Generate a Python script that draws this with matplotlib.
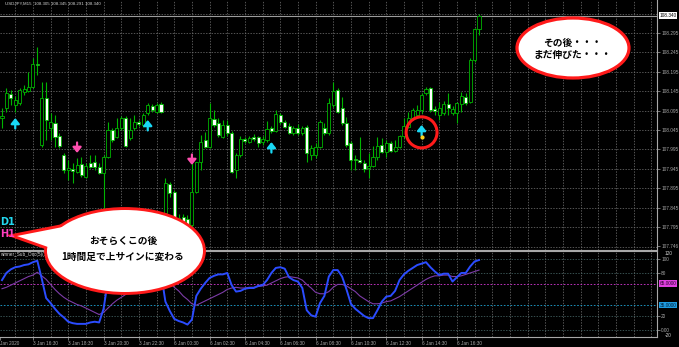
import numpy as np
import matplotlib.pyplot as plt
from matplotlib.patches import Ellipse, Polygon
from matplotlib.transforms import blended_transform_factory

# USDJPY M15, 3 Jan 14:45 -> 6 Jan 17:45
opens = [108.076, 108.102, 108.138, 108.109, 108.115, 108.143, 108.146, 108.156, 108.215, 108.006,
         108.127, 108.050, 108.063, 108.030, 107.981, 107.942, 107.944, 107.937, 107.957, 107.924,
         107.960, 107.963, 107.950, 107.934, 107.975, 108.045, 108.027, 108.050, 108.076, 108.024,
         108.050, 108.066, 108.058, 108.089, 108.107, 108.091, 108.112, 107.831, 107.906, 107.885,
         107.798, 107.821, 107.816, 107.800, 107.885, 107.963, 108.019, 108.001, 108.073, 108.063,
         108.027, 108.058, 108.037, 107.942, 107.981, 108.022, 108.014, 108.027, 108.027, 108.014,
         108.019, 108.050, 108.042, 108.084, 108.066, 108.055, 108.037, 108.050, 108.037, 108.053,
         107.981, 107.981, 108.001, 108.050, 108.037, 108.109, 108.148, 108.102, 108.063, 108.011,
         107.970, 107.968, 107.960, 107.947, 107.952, 107.975, 108.006, 107.988, 108.011, 107.991,
         108.001, 108.030, 108.053, 108.076, 108.084, 108.097, 108.140, 108.153, 108.099, 108.084,
         108.089, 108.112, 108.089, 108.089, 108.112, 108.130, 108.117, 108.225, 108.305]
highs = [108.102, 108.153, 108.148, 108.133, 108.153, 108.161, 108.194, 108.231, 108.259, 108.169,
         108.169, 108.089, 108.084, 108.037, 107.986, 107.968, 107.960, 107.973, 107.975, 107.960,
         107.981, 107.981, 107.960, 107.981, 108.066, 108.050, 108.076, 108.081, 108.081, 108.076,
         108.084, 108.071, 108.089, 108.115, 108.112, 108.115, 108.117, 107.921, 107.911, 107.890,
         107.829, 107.829, 107.826, 107.968, 107.963, 108.032, 108.040, 108.115, 108.097, 108.076,
         108.071, 108.071, 108.042, 107.986, 108.030, 108.027, 108.030, 108.035, 108.030, 108.030,
         108.068, 108.055, 108.097, 108.089, 108.071, 108.063, 108.055, 108.060, 108.055, 108.058,
         108.006, 108.011, 108.071, 108.063, 108.127, 108.169, 108.153, 108.130, 108.078, 108.017,
         107.981, 108.027, 107.968, 107.986, 108.004, 108.027, 108.024, 108.019, 108.017, 108.019,
         108.032, 108.076, 108.091, 108.102, 108.109, 108.140, 108.156, 108.156, 108.107, 108.117,
         108.120, 108.140, 108.107, 108.117, 108.143, 108.140, 108.231, 108.308, 108.345]
lows = [108.050, 108.091, 108.109, 108.091, 108.109, 108.135, 108.143, 108.153, 108.187, 108.001,
        108.019, 108.019, 108.001, 107.999, 107.934, 107.916, 107.908, 107.934, 107.924, 107.921,
        107.947, 107.942, 107.932, 107.826, 107.973, 108.014, 108.024, 108.045, 108.001, 108.019,
        108.045, 108.055, 108.053, 108.084, 108.091, 108.089, 108.089, 107.826, 107.872, 107.792,
        107.782, 107.782, 107.780, 107.792, 107.883, 107.942, 107.999, 107.999, 108.053, 108.027,
        108.024, 108.030, 107.934, 107.921, 107.975, 108.011, 108.011, 108.017, 108.001, 108.006,
        108.014, 108.037, 108.040, 108.060, 108.050, 108.035, 108.032, 108.032, 108.032, 107.963,
        107.968, 107.973, 107.999, 108.032, 108.032, 108.104, 108.089, 108.058, 108.001, 107.942,
        107.942, 107.960, 107.937, 107.921, 107.950, 107.968, 107.986, 107.975, 107.988, 107.988,
        107.999, 108.024, 108.050, 108.071, 108.078, 108.089, 108.135, 108.091, 108.084, 108.071,
        108.084, 108.084, 108.084, 108.063, 108.091, 108.109, 108.115, 108.220, 108.291]
closes = [108.081, 108.140, 108.127, 108.122, 108.148, 108.151, 108.156, 108.215, 108.212, 108.127,
          108.071, 108.066, 108.027, 108.004, 107.942, 107.947, 107.939, 107.955, 107.929, 107.952,
          107.950, 107.950, 107.934, 107.975, 108.045, 108.019, 108.050, 108.076, 108.004, 108.045,
          108.066, 108.060, 108.084, 108.109, 108.097, 108.109, 108.091, 107.908, 107.883, 107.800,
          107.818, 107.795, 107.798, 107.885, 107.963, 108.014, 108.001, 108.076, 108.058, 108.032,
          108.058, 108.037, 107.937, 107.981, 108.022, 108.017, 108.024, 108.022, 108.011, 108.022,
          108.048, 108.042, 108.086, 108.066, 108.053, 108.037, 108.050, 108.037, 108.050, 107.986,
          107.999, 108.001, 108.066, 108.037, 108.115, 108.146, 108.091, 108.063, 108.006, 107.968,
          107.968, 107.963, 107.944, 107.952, 107.975, 108.004, 107.988, 108.011, 107.991, 108.001,
          108.030, 108.055, 108.076, 108.097, 108.097, 108.135, 108.151, 108.097, 108.094, 108.102,
          108.112, 108.102, 108.099, 108.115, 108.133, 108.115, 108.225, 108.305, 108.340]

# signal arrows (bar index, tip price)
up_idx = [3, 33, 61, 95]
up_tip = [108.076, 108.071, 108.014, 108.058]
dn_idx = [17, 43]
dn_tip = [107.986, 107.955]
dot_price = 108.027

# sub window oscillator
fast = [70, 80, 85, 88, 89, 91, 92, 95, 97, 72, 45, 38, 30, 23, 18, 12, 10, 9, 9, 9,
        11, 12, 11, 30, 70, 85, 80, 85, 70, 65, 72, 75, 80, 88, 90, 92, 80, 40, 27, 16,
        13, 11, 8, 15, 48, 58, 66, 73, 76, 78, 78, 80, 63, 54, 55, 58, 59, 59, 62, 63,
        70, 80, 87, 88, 86, 74, 70, 68, 59, 28, 21, 19, 38, 48, 75, 84, 84, 75, 57, 37,
        30, 25, 20, 17, 17, 28, 40, 47, 48, 55, 70, 78, 83, 87, 91, 93, 95, 88, 82, 77,
        79, 79, 68, 74, 80, 80, 89, 96, 98]
slow = [58, 60, 63, 66, 69, 72, 75, 77, 81, 76, 71, 64, 57, 51, 46, 42, 39, 36, 34, 31,
        28, 25, 22, 25, 31, 37, 42, 46, 50, 54, 58, 61, 64, 67, 70, 73, 75, 72, 67, 60,
        55, 48, 43, 37, 35, 38, 41, 44, 47, 50, 53, 57, 59, 60, 59, 59, 60, 60, 61, 62,
        63, 66, 69, 72, 74, 75, 74, 73, 70, 64, 59, 53, 51, 51, 54, 60, 64, 64, 62, 58,
        54, 48, 44, 40, 37, 37, 38, 40, 41, 44, 47, 51, 55, 59, 63, 67, 71, 74, 76, 76,
        77, 77, 75, 75, 76, 78, 80, 82, 84]
levels = [65, 35]

price_ticks = [108.295, 108.245, 108.195, 108.145, 108.095, 108.045, 107.995,
               107.945, 107.895, 107.845, 107.795, 107.746]
time_ticks = [7 + 8 * k for k in range(13)]
time_labels = ['3 Jan 16:30', '3 Jan 18:30', '3 Jan 20:30', '3 Jan 22:30',
               '6 Jan 00:30', '6 Jan 02:30', '6 Jan 04:30', '6 Jan 06:30', '6 Jan 08:30',
               '6 Jan 10:30', '6 Jan 12:30', '6 Jan 14:30', '6 Jan 16:30']

W, H = 679, 347
GREEN = '#00b400'
GRID = '#767676'
AXC = '#a8a8a8'
TXT = '#d2d2d2'
SMALL = dict(family='Liberation Sans', fontsize=3.4, color=TXT)
JP = ['Noto Sans CJK JP', 'DejaVu Sans']

fig = plt.figure(figsize=(W / 100, H / 100), dpi=100, facecolor='black')
ax = fig.add_axes([0, 1 - 250 / H, 657 / W, 250 / H], facecolor='black')
sub = fig.add_axes([0, 1 - 337 / H, 657 / W, 86 / H], facecolor='black')

x = np.arange(len(opens))
o, h, l, c = map(np.array, (opens, highs, lows, closes))
xlim = (-0.45, 148.3)

# main chart
ax.set_xlim(*xlim)
ax.set_ylim(107.736, 108.380)
for i in range(3, 149, 4):
    ax.axvline(i, color=GRID, lw=0.5, ls=(0, (2, 2)), zorder=1)
    sub.axvline(i, color=GRID, lw=0.5, ls=(0, (2, 2)), zorder=1)
for p in np.arange(108.345, 107.74, -0.05):
    ax.axhline(p, color=GRID, lw=0.5, ls=(0, (2, 2)), zorder=1)

bull = c >= o
ax.vlines(x, l, h, color=GREEN, lw=0.8, zorder=3)
ax.bar(x, np.maximum(np.abs(c - o), 0.0007), 0.7, bottom=np.minimum(o, c),
       color=np.where(bull, 'black', 'white'), edgecolor=GREEN, linewidth=0.6, zorder=4)

ax.axhline(c[-1], color='#9c9c9c', lw=0.8, zorder=2)

for i, t in zip(up_idx, up_tip):
    ax.annotate('', xy=(i, t), xytext=(i, t - 0.027),
                arrowprops=dict(arrowstyle='-|>,head_width=0.32,head_length=0.4', color='#19d8f5',
                                lw=1.6, shrinkA=0, shrinkB=0, mutation_scale=8), zorder=6)
for i, t in zip(dn_idx, dn_tip):
    ax.annotate('', xy=(i, t), xytext=(i, t + 0.027),
                arrowprops=dict(arrowstyle='-|>,head_width=0.32,head_length=0.4', color='#ff4faf',
                                lw=1.6, shrinkA=0, shrinkB=0, mutation_scale=8), zorder=6)
ax.scatter([up_idx[-1]], [dot_price], s=4, color='#ffd21a', zorder=7)
ax.add_patch(Ellipse((up_idx[-1], up_tip[-1] - 0.019), 7.0, 0.080, fill=False,
                     edgecolor='#ff1a1a', lw=2.2, zorder=8))

ax.yaxis.tick_right()
ax.set_yticks(price_ticks)
ax.set_yticklabels([f'{p:.3f}' for p in price_ticks], **SMALL)
ax.tick_params(axis='y', colors=AXC, length=2, width=0.5, pad=1)
ax.set_xticks([])
for s in ['left', 'top']:
    ax.spines[s].set_visible(False)
for s in ['right', 'bottom']:
    ax.spines[s].set_color(AXC)
    ax.spines[s].set_linewidth(0.8)
yx = blended_transform_factory(ax.transAxes, ax.transData)
ax.text(1.004, c[-1], f'{c[-1]:.3f}', transform=yx, va='center', ha='left',
        family='Liberation Sans', fontsize=3.4, color='black',
        bbox=dict(boxstyle='square,pad=0.15', fc='white', ec='none'), clip_on=False)
ax.text(0.007, 0.995, f'USDJPY,M15  {o[-1]:.3f} {h[-1]:.3f} {l[-1]:.3f} {c[-1]:.3f}',
        transform=ax.transAxes, va='top', ha='left', family='Liberation Sans',
        fontsize=3.2, color=TXT)

# sub window
sub.set_xlim(*xlim)
sub.set_ylim(-9.3, 110.6)
for v in [100, 80, 20, 0]:
    sub.axhline(v, color='#4d7070', lw=0.5, ls=(0, (2, 2)), zorder=1)
sub.axhline(levels[0], color='#d838d8', lw=0.6, ls=(0, (2, 2)), zorder=1)
sub.axhline(levels[1], color='#20a8d8', lw=0.6, ls=(0, (2, 2)), zorder=1)
sub.plot(x, slow, color='#7d3ca8', lw=0.8, zorder=3)
sub.plot(x, fast, color='#2b4cff', lw=1.4, zorder=4)

sub.yaxis.tick_right()
sub.set_yticks([100, 80, 20, 0])
sub.set_yticklabels(['100', '80', '20', '0.00'], **SMALL)
sub.tick_params(axis='y', colors=AXC, length=2, width=0.5, pad=1)
sx = blended_transform_factory(sub.transAxes, sub.transData)
sub.text(1.012, 106.5, '120', transform=sx, va='center', clip_on=False, **SMALL)
sub.text(1.012, -7.5, '-20', transform=sx, va='center', clip_on=False, **SMALL)
sub.text(1.004, levels[0], f'{levels[0]:.4f}', transform=sx, va='center', ha='left',
         family='Liberation Sans', fontsize=3.4, color='#2a002a', clip_on=False,
         bbox=dict(boxstyle='square,pad=0.15', fc='#e040e0', ec='none'))
sub.text(1.004, levels[1], f'{levels[1]:.4f}', transform=sx, va='center', ha='left',
         family='Liberation Sans', fontsize=3.4, color='#00203a', clip_on=False,
         bbox=dict(boxstyle='square,pad=0.15', fc='#1e9be0', ec='none'))

sub.set_xticks([-0.35] + time_ticks)
sub.set_xticklabels(['Jan 2020'] + time_labels, **SMALL)
for lab in sub.get_xticklabels():
    lab.set_horizontalalignment('left')
sub.tick_params(axis='x', colors=AXC, length=2, width=0.5, pad=1)
sub.spines['left'].set_visible(False)
for s in ['right', 'bottom', 'top']:
    sub.spines[s].set_color(AXC)
    sub.spines[s].set_linewidth(0.8)
sub.text(0.0, 0.985, 'winner_Sub_Osc(5)(1)', transform=sub.transAxes, va='top', ha='left',
         family='Liberation Sans', fontsize=3.4, color=TXT)

# overlay: call-outs in pixel space
ov = fig.add_axes([0, 0, 1, 1], facecolor='none')
ov.set_xlim(0, W)
ov.set_ylim(H, 0)
ov.axis('off')

ov.text(0, 222, 'D1', color='#22d8f0', fontsize=7, fontweight='bold', va='center', ha='left')
ov.text(0, 234, 'H1', color='#ff3fbf', fontsize=7, fontweight='bold', va='center', ha='left')

tail = [(78, 224), (17, 236), (62, 252)]
for lw, fc, ec in [(4.2, '#ff1a1a', '#ff1a1a'), (0, 'white', 'white')]:
    ov.add_patch(Polygon(tail, closed=True, fc=fc, ec=ec, lw=lw, joinstyle='miter'))
    ov.add_patch(Ellipse((125, 251), 156, 82, fc=fc, ec=ec, lw=lw))
ov.text(123, 241, 'おそらくこの後', family=JP, fontsize=7, fontweight='bold',
        ha='center', va='center', color='black')
ov.text(123, 257, '1時間足で上サインに変わる', family=JP, fontsize=7, fontweight='bold',
        ha='center', va='center', color='black')

ov.add_patch(Ellipse((573, 48), 112, 60, fc='white', ec='#ff1a1a', lw=2.3))
ov.text(572, 43, 'その後・・・', family=JP, fontsize=7, fontweight='bold',
        ha='center', va='center', color='black')
ov.text(572, 55, 'まだ伸びた・・・', family=JP, fontsize=7, fontweight='bold',
        ha='center', va='center', color='black')

fig.savefig('out.png', dpi=100, facecolor='black')
